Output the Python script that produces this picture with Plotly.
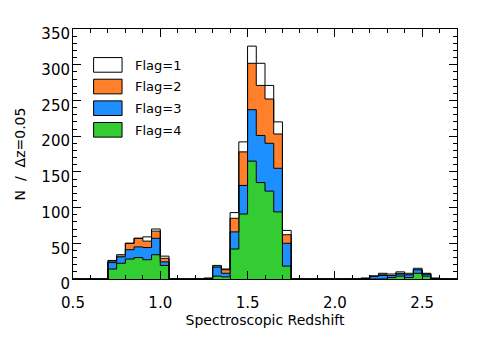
import numpy as np
import plotly.graph_objects as go

# left edges of the non-empty redshift bins (width 0.05)
zbin = [0.70, 0.75, 0.80, 0.85, 0.90, 0.95, 1.00,
        1.25, 1.30, 1.35, 1.40, 1.45, 1.50, 1.55, 1.60, 1.65, 1.70,
        2.15, 2.20, 2.25, 2.30, 2.35, 2.40, 2.45, 2.50, 2.55]
flag4 = [14, 22, 28, 30, 27, 34, 19,
         0, 4, 3, 42, 91, 165, 135, 123, 94, 18,
         0, 0, 0, 2, 4, 2, 8, 4, 0]
flag3 = [9, 9, 13, 15, 17, 23, 5,
         1, 13, 5, 24, 40, 72, 66, 67, 61, 32,
         1, 4, 5, 3, 3, 4, 5, 3, 1]
flag2 = [2, 1, 9, 12, 9, 10, 5,
         0, 0, 5, 19, 47, 65, 70, 62, 48, 12,
         0, 0, 1, 0, 1, 0, 0, 0, 0]
flag1 = [1, 2, 0, 0, 6, 3, 3,
         0, 2, 1, 8, 14, 24, 31, 19, 17, 6,
         0, 0, 2, 2, 2, 2, 2, 1, 0]

names = ["Flag=1", "Flag=2", "Flag=3", "Flag=4"]
colors = ["#FFFFFF", "#FF7F2A", "#1E8FFF", "#33CC33"]

# full grid of bin edges so the step outline drops back to zero between groups
edges = np.round(np.arange(0.5, 2.7001, 0.05), 2)
idx = {round(z, 2): i for i, z in enumerate(edges)}

def on_grid(vals):
    out = np.zeros(len(edges))
    for z, v in zip(zbin, vals):
        out[idx[round(z, 2)]] = v
    return out

fig = go.Figure()
for vals, nm, col in zip([flag4, flag3, flag2, flag1], names[::-1], colors[::-1]):
    fig.add_trace(go.Scatter(
        x=edges, y=on_grid(vals),
        mode="lines", line=dict(shape="hv", color="black", width=1),
        fillcolor=col, stackgroup="one", name=nm, showlegend=False))

# legend boxes drawn by hand (IDL style)
for i, (nm, col) in enumerate(zip(names, colors)):
    ytop = 310 - i * 30.3
    fig.add_shape(type="rect", x0=0.618, x1=0.781, y0=ytop - 20.5, y1=ytop,
                  xref="x", yref="y", fillcolor=col, line=dict(color="black", width=1))
    fig.add_annotation(x=0.845, y=ytop - 10.5, xref="x", yref="y", text=nm,
                       showarrow=False, xanchor="left", yanchor="middle",
                       font=dict(size=13, color="black"))

axis = dict(showline=True, linecolor="black", linewidth=1, mirror="ticks",
            ticks="inside", ticklen=8, tickcolor="black", showgrid=False,
            zeroline=False)

fig.update_xaxes(range=[0.5, 2.7], dtick=0.5, tick0=0.5, tickformat=".1f",
                 ticklabelstandoff=10, tickfont=dict(size=15, color="black"),
                 minor=dict(dtick=0.1, ticks="inside", ticklen=4, tickcolor="black"),
                 title=dict(text="Spectroscopic Redshift", font=dict(size=14, color="black"), standoff=4),
                 **axis)
fig.update_yaxes(range=[0, 350], dtick=50, ticklabelshift=5, ticklabelstandoff=-1,
                 tickfont=dict(size=15, color="black"),
                 minor=dict(dtick=10, ticks="inside", ticklen=4, tickcolor="black"),
                 title=dict(text="N  /  Δz=0.05", font=dict(size=14, color="black"), standoff=12),
                 **axis)

# page body has an 8px margin, so the figure is a bit smaller than the window
fig.update_layout(width=469, height=330, margin=dict(l=65, r=20, t=21, b=51),
                  plot_bgcolor="white", paper_bgcolor="white",
                  font=dict(family="DejaVu Sans", color="black"))

fig.write_html("out.html")
